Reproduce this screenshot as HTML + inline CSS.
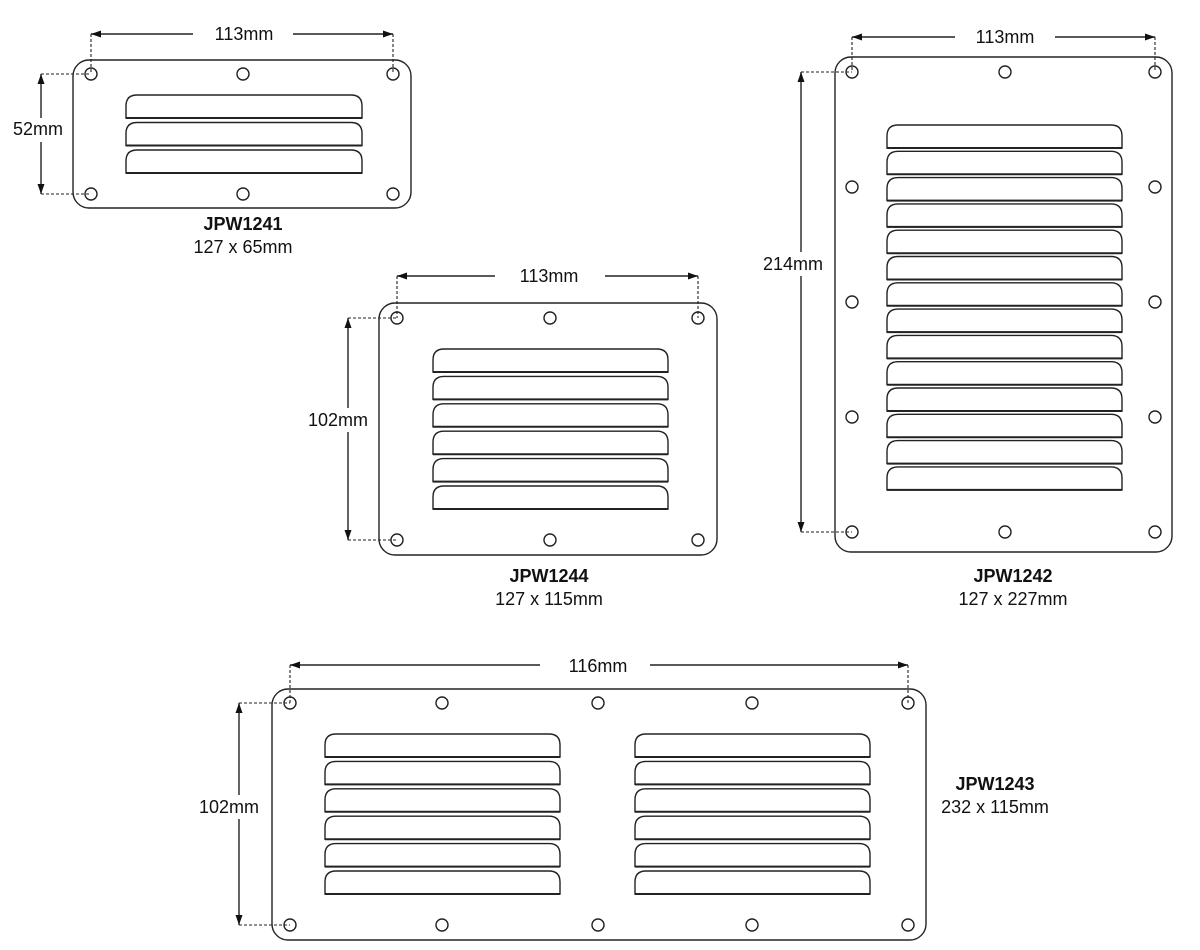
<!DOCTYPE html>
<html><head><meta charset="utf-8">
<style>
html,body{margin:0;padding:0;background:#fff;width:1200px;height:950px;overflow:hidden}
svg{display:block}
text{font-family:"Liberation Sans",sans-serif;font-size:18px;fill:#111;text-anchor:middle}
.b{font-weight:bold}
</style></head><body>
<svg id="s" width="1200" height="950" viewBox="0 0 1200 950" xmlns="http://www.w3.org/2000/svg">
<g id="g" fill="none" stroke="#222" stroke-width="1.4"></g>
<rect x="193" y="24" width="100" height="20" fill="#fff"/>
<text x="244" y="40">113mm</text>
<rect x="8" y="118" width="62" height="24" fill="#fff"/>
<text x="38" y="135">52mm</text>
<text x="243" y="230" class="b">JPW1241</text>
<text x="243" y="253">127 x 65mm</text>

<rect x="495" y="266" width="110" height="20" fill="#fff"/>
<text x="549" y="282">113mm</text>
<rect x="303" y="408" width="70" height="24" fill="#fff"/>
<text x="338" y="426">102mm</text>
<text x="549" y="582" class="b">JPW1244</text>
<text x="549" y="605">127 x 115mm</text>

<rect x="955" y="27" width="100" height="20" fill="#fff"/>
<text x="1005" y="43">113mm</text>
<rect x="756" y="252" width="76" height="24" fill="#fff"/>
<text x="793" y="270">214mm</text>
<text x="1013" y="582" class="b">JPW1242</text>
<text x="1013" y="605">127 x 227mm</text>

<rect x="540" y="655" width="110" height="20" fill="#fff"/>
<text x="598" y="672">116mm</text>
<rect x="193" y="795" width="74" height="24" fill="#fff"/>
<text x="229" y="813">102mm</text>
<text x="995" y="790" class="b">JPW1243</text>
<text x="995" y="813">232 x 115mm</text>
</svg>
<script>
var g=document.getElementById('g'),h='';
function plate(x1,y1,x2,y2){h+='<rect x="'+x1+'" y="'+y1+'" width="'+(x2-x1)+'" height="'+(y2-y1)+'" rx="16"/>';}
function hole(x,y){h+='<circle cx="'+x+'" cy="'+y+'" r="6"/>';}
function lv(x1,x2,y,n,p){for(var i=0;i<n;i++){var t=y+i*p,b=t+23,r=11;
h+='<path d="M'+x1+' '+b+' L'+x1+' '+(t+r)+' Q'+x1+' '+t+' '+(x1+r)+' '+t+' L'+(x2-r)+' '+t+' Q'+x2+' '+t+' '+x2+' '+(t+r)+' L'+x2+' '+b+' Z"/>';
h+='<line x1="'+x1+'" y1="'+b+'" x2="'+x2+'" y2="'+b+'" stroke-width="2"/>';}}
function ar(x,y,d){var s=5,w=3.5,p;
if(d=='l')p=[x,y,x+s*2,y-w,x+s*2,y+w];if(d=='r')p=[x,y,x-s*2,y-w,x-s*2,y+w];
if(d=='u')p=[x,y,x-w,y+s*2,x+w,y+s*2];if(d=='d')p=[x,y,x-w,y-s*2,x+w,y-s*2];
h+='<polygon fill="#111" stroke="none" points="'+p.join(' ')+'"/>';}
function dimH(x1,x2,y,hy){h+='<line x1="'+x1+'" y1="'+y+'" x2="'+x2+'" y2="'+y+'"/>';ar(x1,y,'l');ar(x2,y,'r');
h+='<line stroke-dasharray="3,2" stroke-width="1.1" x1="'+x1+'" y1="'+y+'" x2="'+x1+'" y2="'+hy+'"/><line stroke-dasharray="3,2" stroke-width="1.1" x1="'+x2+'" y1="'+y+'" x2="'+x2+'" y2="'+hy+'"/>';}
function dimV(x,y1,y2,hx){h+='<line x1="'+x+'" y1="'+y1+'" x2="'+x+'" y2="'+y2+'"/>';ar(x,y1,'u');ar(x,y2,'d');
h+='<line stroke-dasharray="3,2" stroke-width="1.1" x1="'+x+'" y1="'+y1+'" x2="'+hx+'" y2="'+y1+'"/><line stroke-dasharray="3,2" stroke-width="1.1" x1="'+x+'" y1="'+y2+'" x2="'+hx+'" y2="'+y2+'"/>';}
plate(73,60,411,208);[91,243,393].forEach(function(x){hole(x,74);hole(x,194)});
lv(126,362,95,3,27.5);dimH(91,393,34,74);dimV(41,74,194,91);
plate(379,303,717,555);[397,550,698].forEach(function(x){hole(x,318);hole(x,540)});
lv(433,668,349,6,27.4);dimH(397,698,276,318);dimV(348,318,540,397);
plate(835,57,1172,552);[852,1005,1155].forEach(function(x){hole(x,72);hole(x,532)});
[187,302,417].forEach(function(y){hole(852,y);hole(1155,y)});
lv(887,1122,125,14,26.3);dimH(852,1155,37,72);dimV(801,72,532,852);
plate(272,689,926,940);[290,442,598,752,908].forEach(function(x){hole(x,703);hole(x,925)});
lv(325,560,734,6,27.4);lv(635,870,734,6,27.4);dimH(290,908,665,703);dimV(239,703,925,290);
g.innerHTML=h;
</script>
</body></html>
